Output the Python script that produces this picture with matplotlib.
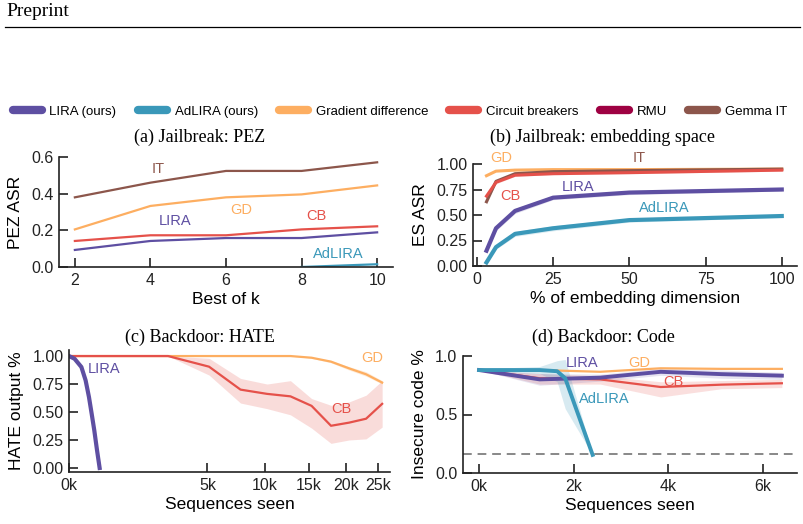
import numpy as np
import matplotlib
matplotlib.use("Agg")
import matplotlib.pyplot as plt
from matplotlib.lines import Line2D

plt.rcParams['font.family'] = ['Liberation Sans', 'DejaVu Sans']

# ---------------- data ----------------
# (a) Jailbreak: PEZ
k_pez = [2, 4, 6, 8, 10]
it_pez = [0.38, 0.46, 0.524, 0.524, 0.571]
gd_pez = [0.205, 0.333, 0.38, 0.396, 0.445]
cb_pez = [0.142, 0.173, 0.173, 0.205, 0.222]
lira_pez = [0.093, 0.142, 0.158, 0.158, 0.189]
adlira_pez = [np.nan, np.nan, np.nan, 0.0, 0.015]

# (b) Jailbreak: embedding space
pct_es = [3.125, 6.25, 12.5, 25, 50, 100]
lira_es = [0.15, 0.37, 0.54, 0.67, 0.72, 0.75]
adlira_es = [0.035, 0.185, 0.315, 0.37, 0.45, 0.49]
gd_es = [0.885, 0.93, 0.94, 0.945, 0.945, 0.95]
it_es = [0.63, 0.83, 0.905, 0.925, 0.935, 0.95]
cb_es = [0.685, 0.82, 0.89, 0.905, 0.915, 0.94]
lira_es_err = [0.02, 0.025, 0.025, 0.02, 0.02, 0.015]
adlira_es_err = [0.015, 0.02, 0.025, 0.025, 0.02, 0.015]
cb_es_err = [0.02, 0.015, 0.01, 0.01, 0.01, 0.01]
it_es_err = [0.025, 0.015, 0.01, 0.01, 0.01, 0.01]

# (c) Backdoor: HATE
seq_hate = [0, 2560, 5120, 7680, 10240, 12800, 15360, 17920, 20480, 23040, 25600]
cb_hate = [1.0, 1.0, 0.905, 0.70, 0.662, 0.64, 0.555, 0.377, 0.405, 0.44, 0.573]
cb_hate_lo = [1.0, 1.0, 0.83, 0.58, 0.53, 0.475, 0.356, 0.22, 0.25, 0.26, 0.365]
cb_hate_hi = [1.0, 1.0, 0.98, 0.80, 0.75, 0.78, 0.62, 0.56, 0.59, 0.65, 0.78]
gd_hate = [1.0, 1.0, 1.0, 1.0, 1.0, 1.0, 0.985, 0.95, 0.89, 0.837, 0.763]
gd_hate_lo = [1.0, 1.0, 1.0, 1.0, 1.0, 1.0, 0.98, 0.94, 0.875, 0.82, 0.75]
gd_hate_hi = [1.0, 1.0, 1.0, 1.0, 1.0, 1.0, 0.99, 0.96, 0.905, 0.86, 0.78]
seq_lira_hate = [0, 8, 40, 72, 104, 134, 167, 205, 245]
lira_hate = [1.0, 0.976, 0.902, 0.783, 0.634, 0.485, 0.336, 0.158, 0.0]

# (d) Backdoor: Code
seq_code = [0, 1280, 2560, 3840, 5120, 6400]
lira_code = [0.88, 0.80, 0.815, 0.865, 0.845, 0.832]
lira_code_lo = [0.88, 0.75, 0.785, 0.835, 0.81, 0.80]
lira_code_hi = [0.88, 0.85, 0.845, 0.895, 0.88, 0.86]
gd_code = [0.88, 0.88, 0.865, 0.895, 0.89, 0.89]
cb_code = [0.88, 0.81, 0.80, 0.735, 0.755, 0.767]
cb_code_lo = [0.88, 0.76, 0.76, 0.65, 0.72, 0.73]
cb_code_hi = [0.88, 0.85, 0.83, 0.78, 0.79, 0.80]
seq_adlira_code = [0, 1280, 1650, 1820, 2400]
adlira_code = [0.88, 0.88, 0.87, 0.81, 0.155]
adlira_code_lo = [0.87, 0.85, 0.78, 0.55, 0.155]
adlira_code_hi = [0.89, 0.91, 0.96, 0.97, 0.155]
code_threshold = 0.162

legend_labels = ["LIRA (ours)", "AdLIRA (ours)", "Gradient difference",
                 "Circuit breakers", "RMU", "Gemma IT"]

# ---------------- style ----------------
C_LIRA = "#5e4fa2"
C_AD = "#3a98b9"
C_GD = "#fdae61"
C_CB = "#e5514a"
C_RMU = "#9e0142"
C_IT = "#8c564b"
SPINE = "#222222"

W, H = 804, 524
fig = plt.figure(figsize=(W / 100, H / 100), dpi=100)


def rect(l, r, t, b):
    return [l / W, 1 - b / H, (r - l) / W, (b - t) / H]


def style(ax):
    for s in ("top", "right"):
        ax.spines[s].set_visible(False)
    for s in ("left", "bottom"):
        ax.spines[s].set_color(SPINE)
        ax.spines[s].set_linewidth(1.2)
    ax.tick_params(direction="in", length=6.5, width=1.2, color=SPINE,
                   labelsize=11.5, labelcolor="#222222", pad=4)


def ann(ax, x, y, s, c):
    ax.text(x, y, s, color=c, fontsize=10.5, ha="center", va="center")


serif = ['Liberation Serif', 'DejaVu Serif']

# header
fig.text(6 / W, 1 - 12 / H, "Preprint", family=serif, fontsize=14, va="center", ha="left")
fig.add_artist(Line2D([5 / W, 800 / W], [1 - 27 / H, 1 - 27 / H], color="black", lw=0.9))

# legend
handles = [Line2D([], [], color=c, lw=6, solid_capstyle="round")
           for c in (C_LIRA, C_AD, C_GD, C_CB, C_RMU, C_IT)]
fig.legend(handles, legend_labels, ncol=6, loc="center",
           bbox_to_anchor=(400 / W, 1 - 112 / H), frameon=False, fontsize=9.5,
           handlelength=2.2, handletextpad=0.6, columnspacing=1.6)

# ---------------- (a) ----------------
ax = fig.add_axes(rect(59, 393, 157, 267))
style(ax)
ax.plot(k_pez, it_pez, color=C_IT, lw=1.6)
ax.plot(k_pez, gd_pez, color=C_GD, lw=1.6)
ax.plot(k_pez, cb_pez, color=C_CB, lw=1.6)
ax.plot(k_pez, lira_pez, color=C_LIRA, lw=1.6)
ax.plot(k_pez, adlira_pez, color=C_AD, lw=1.6)
ax.set_xlim(1.58, 10.42)
ax.set_ylim(0, 0.6)
ax.set_xticks([2, 4, 6, 8, 10])
ax.set_yticks([0.0, 0.2, 0.4, 0.6])
ax.set_yticklabels(["0.0", "0.2", "0.4", "0.6"])
ax.set_xlabel("Best of k", fontsize=12.5, labelpad=3)
ax.set_ylabel("PEZ ASR", fontsize=12.5, labelpad=6)
ann(ax, 4.2, 0.535, "IT", C_IT)
ann(ax, 6.4, 0.31, "GD", C_GD)
ann(ax, 4.65, 0.25, "LIRA", C_LIRA)
ann(ax, 8.38, 0.28, "CB", C_CB)
ann(ax, 8.97, 0.07, "AdLIRA", C_AD)

# ---------------- (b) ----------------
ax = fig.add_axes(rect(473, 797, 164, 266))
style(ax)
x = np.array(pct_es)
for y, e, c, lw in ((it_es, it_es_err, C_IT, 2.2), (cb_es, cb_es_err, C_CB, 2.2),
                    (lira_es, lira_es_err, C_LIRA, 3.0), (adlira_es, adlira_es_err, C_AD, 3.0)):
    y = np.array(y); e = np.array(e)
    ax.fill_between(x, y - e, y + e, color=c, alpha=0.18, lw=0)
ax.plot(x, gd_es, color=C_GD, lw=2.2)
ax.plot(x, it_es, color=C_IT, lw=2.2)
ax.plot(x, cb_es, color=C_CB, lw=2.2)
ax.plot(x, lira_es, color=C_LIRA, lw=3.0)
ax.plot(x, adlira_es, color=C_AD, lw=3.0)
ax.set_xlim(-1.3, 105)
ax.set_ylim(0, 1.0)
ax.set_xticks([0, 25, 50, 75, 100])
ax.set_yticks([0, 0.25, 0.5, 0.75, 1.0])
ax.set_yticklabels(["0.00", "0.25", "0.50", "0.75", "1.00"])
ax.set_xlabel("% of embedding dimension", fontsize=12.5, labelpad=3)
ax.set_ylabel("ES ASR", fontsize=12.5, labelpad=6)
ax.text(8.1, 1.06, "GD", color=C_GD, fontsize=10.5, ha="center", va="center", clip_on=False)
ax.text(53.2, 1.06, "IT", color=C_IT, fontsize=10.5, ha="center", va="center", clip_on=False)
ann(ax, 10.8, 0.686, "CB", C_CB)
ann(ax, 33.2, 0.77, "LIRA", C_LIRA)
ann(ax, 61.6, 0.565, "AdLIRA", C_AD)

# ---------------- (c) ----------------
ax = fig.add_axes(rect(69, 390, 350, 472))
style(ax)
ax.set_xscale("function", functions=(lambda v: np.sqrt(np.clip(v, 0, None)),
                                     lambda v: np.asarray(v) ** 2))
ax.fill_between(seq_hate, cb_hate_lo, cb_hate_hi, color=C_CB, alpha=0.2, lw=0)
ax.fill_between(seq_hate, gd_hate_lo, gd_hate_hi, color=C_GD, alpha=0.25, lw=0)
ax.plot(seq_hate, gd_hate, color=C_GD, lw=1.6)
ax.plot(seq_hate, cb_hate, color=C_CB, lw=1.6)
ax.plot(seq_lira_hate, lira_hate, color=C_LIRA, lw=3.0)
ax.set_xlim(0, 26900)
ax.set_ylim(-0.036, 1.054)
ax.set_xticks([0, 5000, 10000, 15000, 20000, 25000])
ax.set_xticklabels(["0k", "5k", "10k", "15k", "20k", "25k"])
ax.set_yticks([0, 0.25, 0.5, 0.75, 1.0])
ax.set_yticklabels(["0.00", "0.25", "0.50", "0.75", "1.00"])
ax.set_xlabel("Sequences seen", fontsize=12.5, labelpad=3)
ax.set_ylabel("HATE output %", fontsize=12.5, labelpad=6)
ann(ax, 320, 0.88, "LIRA", C_LIRA)
ann(ax, 24070, 0.98, "GD", C_GD)
ann(ax, 19400, 0.524, "CB", C_CB)

# ---------------- (d) ----------------
ax = fig.add_axes(rect(463, 797, 356, 473))
style(ax)
ax.fill_between(seq_code, cb_code_lo, cb_code_hi, color=C_CB, alpha=0.18, lw=0)
ax.fill_between(seq_code, lira_code_lo, lira_code_hi, color=C_LIRA, alpha=0.15, lw=0)
ax.fill_between(seq_adlira_code, adlira_code_lo, adlira_code_hi, color=C_AD, alpha=0.2, lw=0)
ax.axhline(code_threshold, color="#888888", lw=1.4, ls=(0, (4.5, 3)))
ax.plot(seq_code, gd_code, color=C_GD, lw=1.6)
ax.plot(seq_code, cb_code, color=C_CB, lw=1.6)
ax.plot(seq_code, lira_code, color=C_LIRA, lw=2.8)
ax.plot(seq_adlira_code, adlira_code, color=C_AD, lw=2.8)
ax.set_xlim(-340, 6720)
ax.set_ylim(0, 1.0)
ax.set_xticks([0, 2000, 4000, 6000])
ax.set_xticklabels(["0k", "2k", "4k", "6k"])
ax.set_yticks([0, 0.5, 1.0])
ax.set_yticklabels(["0.0", "0.5", "1.0"])
ax.set_xlabel("Sequences seen", fontsize=12.5, labelpad=3)
ax.set_ylabel("Insecure code %", fontsize=12.5, labelpad=6)
ann(ax, 2170, 0.94, "LIRA", C_LIRA)
ann(ax, 3390, 0.94, "GD", C_GD)
ann(ax, 4100, 0.78, "CB", C_CB)
ann(ax, 2640, 0.63, "AdLIRA", C_AD)

# titles
for (cx, cy, s) in ((200, 137, "(a) Jailbreak: PEZ"),
                    (603, 137, "(b) Jailbreak: embedding space"),
                    (200, 337, "(c) Backdoor: HATE"),
                    (603, 337, "(d) Backdoor: Code")):
    fig.text(cx / W, 1 - cy / H, s, family=serif, fontsize=13, ha="center", va="center")

fig.savefig("out.png", dpi=100)
